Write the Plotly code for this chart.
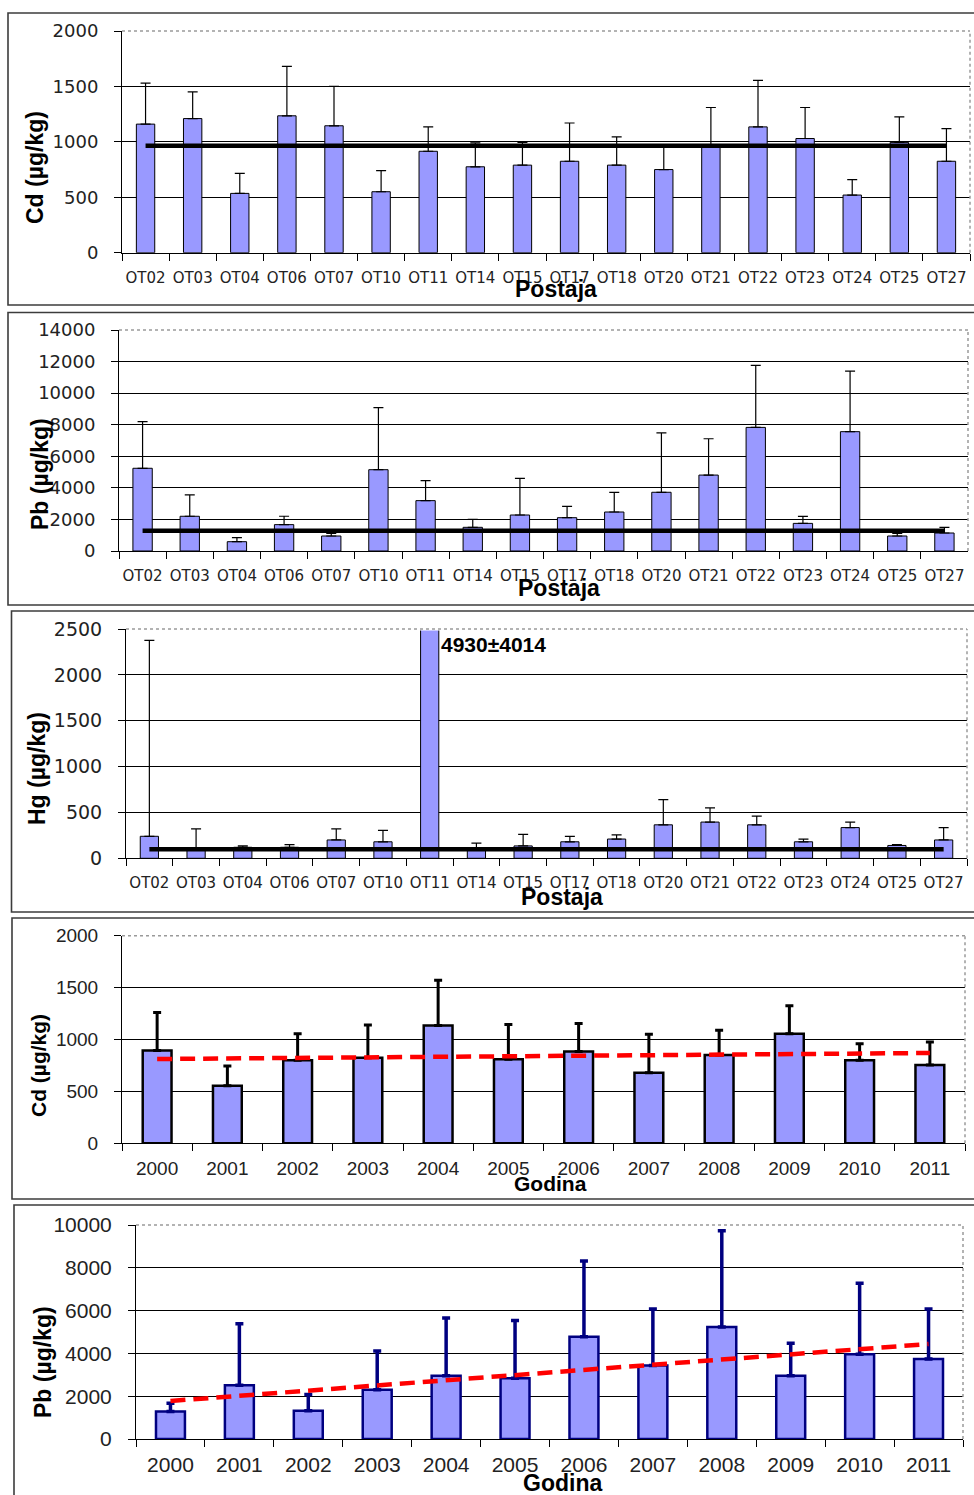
import plotly.graph_objects as go

# ---------------- data ----------------
stations = ["OT02", "OT03", "OT04", "OT06", "OT07", "OT10", "OT11", "OT14", "OT15",
            "OT17", "OT18", "OT20", "OT21", "OT22", "OT23", "OT24", "OT25", "OT27"]
years = ["2000", "2001", "2002", "2003", "2004", "2005", "2006", "2007", "2008",
         "2009", "2010", "2011"]

cd_station = [1160, 1210, 535, 1235, 1145, 550, 915, 775, 790, 825, 790, 750, 950, 1135, 1030, 520, 995, 825]
cd_station_sd = [370, 240, 180, 445, 355, 190, 220, 215, 205, 345, 255, 205, 360, 420, 280, 140, 230, 295]
cd_station_mean = 965

pb_station = [5240, 2200, 590, 1670, 950, 5150, 3190, 1500, 2280, 2110, 2470, 3720, 4810, 7830, 1750, 7560, 950, 1140]
pb_station_sd = [2960, 1350, 255, 530, 170, 3930, 1270, 505, 2320, 720, 1250, 3760, 2300, 3930, 445, 3840, 170, 360]
pb_station_mean = 1290

hg_station = [240, 110, 120, 120, 200, 180, 4930, 110, 135, 180, 210, 365, 395, 365, 180, 335, 140, 200]
hg_station_sd = [2135, 210, 15, 30, 120, 125, 4014, 55, 125, 60, 45, 275, 155, 95, 30, 60, 10, 135]
hg_station_mean = 100
hg_note = "4930±4014"

cd_year = [895, 555, 800, 825, 1135, 810, 885, 680, 850, 1055, 800, 755]
cd_year_sd = [365, 190, 255, 315, 435, 335, 270, 370, 240, 270, 160, 220]
cd_year_trend = [812, 870]

pb_year = [1280, 2510, 1320, 2300, 2960, 2840, 4780, 3430, 5230, 2960, 3960, 3740]
pb_year_sd = [390, 2880, 765, 1810, 2695, 2695, 3535, 2645, 4505, 1510, 3315, 2335]
pb_year_trend = [1776, 4439]

# ---------------- layout helpers ----------------
W, H = 974, 1495
BAR_FILL = "#9999FF"


def px(x):
    return x / W


def py(y):
    return 1 - y / H


fig = go.Figure()
shapes = []
annotations = []

panels = [
    dict(cats=stations, vals=cd_station, sd=cd_station_sd, ymax=2000, dtick=500,
         box=(122, 970, 31, 252.7), bw=0.39, style="thin", ytitle="Cd (µg/kg)",
         xtitle="Postaja", ytpos=(35, 168), xtpos=(556, 289), yfont=("DejaVu Sans", 18),
         xfont=("DejaVu Sans", 15), xstand=11, tsize=23, mean=cd_station_mean),
    dict(cats=stations, vals=pb_station, sd=pb_station_sd, ymax=14000, dtick=2000,
         box=(119, 968, 330, 551), bw=0.41, style="thin", ytitle="Pb (µg/kg)",
         xtitle="Postaja", ytpos=(40, 474), xtpos=(559, 588), yfont=("DejaVu Sans", 18),
         xfont=("DejaVu Sans", 15), xstand=11, tsize=23, mean=pb_station_mean),
    dict(cats=stations, vals=hg_station, sd=hg_station_sd, ymax=2500, dtick=500,
         box=(126, 967, 629, 858.3), bw=0.39, style="thin", ytitle="Hg (µg/kg)",
         xtitle="Postaja", ytpos=(37, 769), xtpos=(562, 897), yfont=("DejaVu Sans", 19),
         xfont=("DejaVu Sans", 15), xstand=11, tsize=23, mean=hg_station_mean),
    dict(cats=years, vals=cd_year, sd=cd_year_sd, ymax=2000, dtick=500,
         box=(122, 965, 935.7, 1143.3), bw=0.41, style="black", ytitle="Cd (µg/kg)",
         xtitle="Godina", ytpos=(38, 1066), xtpos=(550, 1183), yfont=("Liberation Sans", 19),
         xfont=("Liberation Sans", 19), xstand=8, tsize=21, trend=cd_year_trend),
    dict(cats=years, vals=pb_year, sd=pb_year_sd, ymax=10000, dtick=2000,
         box=(136, 963, 1225, 1439), bw=0.42, style="navy", ytitle="Pb (µg/kg)",
         xtitle="Godina", ytpos=(43, 1362), xtpos=(562, 1483), yfont=("Liberation Sans", 21),
         xfont=("Liberation Sans", 21), xstand=7, tsize=23, trend=pb_year_trend),
]

frames = [(8, 13, 305), (8, 312.5, 605), (11.5, 611, 912), (12, 918, 1199), (14, 1205, 1510)]

for i, p in enumerate(panels, start=1):
    xa = "x" if i == 1 else f"x{i}"
    ya = "y" if i == 1 else f"y{i}"
    x0, x1, ytop, ybot = p["box"]

    if p["style"] == "thin":
        line_c, line_w, err_c, err_t, err_w = "black", 1, "black", 1.2, 5
    elif p["style"] == "black":
        line_c, line_w, err_c, err_t, err_w = "black", 2.5, "black", 3, 4
    else:
        line_c, line_w, err_c, err_t, err_w = "#000080", 2.5, "#000080", 3.5, 4

    fig.add_trace(go.Bar(
        x=p["cats"], y=p["vals"], xaxis=xa, yaxis=ya, width=p["bw"],
        marker=dict(color=BAR_FILL, line=dict(color=line_c, width=line_w)),
        error_y=dict(type="data", symmetric=False, array=p["sd"],
                     arrayminus=[0] * len(p["sd"]), color=err_c,
                     thickness=err_t, width=err_w),
        showlegend=False, hoverinfo="skip"))

    if "mean" in p:
        fig.add_trace(go.Scatter(
            x=[p["cats"][0], p["cats"][-1]], y=[p["mean"], p["mean"]],
            xaxis=xa, yaxis=ya, mode="lines",
            line=dict(color="black", width=4.5), showlegend=False, hoverinfo="skip"))
    if "trend" in p:
        fig.add_trace(go.Scatter(
            x=[p["cats"][0], p["cats"][-1]], y=p["trend"],
            xaxis=xa, yaxis=ya, mode="lines",
            line=dict(color="#FF0000", width=4.5, dash="15px,8px"),
            showlegend=False, hoverinfo="skip"))

    xkey = "xaxis" if i == 1 else f"xaxis{i}"
    ykey = "yaxis" if i == 1 else f"yaxis{i}"
    fig.update_layout(**{
        xkey: dict(domain=[px(x0), px(x1)], anchor=ya, type="category",
                   categoryorder="array", categoryarray=p["cats"], automargin=False,
                   showline=True, linecolor="black", linewidth=1,
                   ticks="outside", tickson="boundaries", ticklen=7, tickcolor="black",
                   showgrid=False, zeroline=False, tickangle=0,
                   tickfont=dict(family=p["xfont"][0], size=p["xfont"][1], color="#222"),
                   ticklabelstandoff=p["xstand"], fixedrange=True),
        ykey: dict(domain=[py(ybot), py(ytop)], anchor=xa, automargin=False,
                   range=[0, p["ymax"]], dtick=p["dtick"], tick0=0, tickformat="d",
                   showline=True, linecolor="black", linewidth=1,
                   ticks="outside", ticklen=7, tickcolor="black",
                   showgrid=True, gridcolor="black", gridwidth=1, zeroline=False,
                   tickfont=dict(family=p["yfont"][0], size=p["yfont"][1], color="#222"),
                   ticklabelstandoff=12, fixedrange=True),
    })

    dom = dict(xref=f"{xa} domain", yref=f"{ya} domain")
    shapes.append(dict(type="line", x0=0.002, x1=1, y0=1, y1=1, line=dict(color="white", width=3), **dom))
    shapes.append(dict(type="line", x0=0, x1=1, y0=1, y1=1, line=dict(color="#9a9a9a", width=1.5, dash="dot"), **dom))
    shapes.append(dict(type="line", x0=1, x1=1, y0=0, y1=1, line=dict(color="#9a9a9a", width=1.5, dash="dot"), **dom))

    fx, fy0, fy1 = frames[i - 1]
    shapes.append(dict(type="rect", xref="paper", yref="paper", x0=px(fx), x1=px(990),
                       y0=py(fy1), y1=py(fy0), line=dict(color="#3c3c3c", width=1.6),
                       fillcolor="rgba(0,0,0,0)", layer="below"))

    annotations.append(dict(text=f"<b>{p['ytitle']}</b>", xref="paper", yref="paper",
                            x=px(p["ytpos"][0]), y=py(p["ytpos"][1]), textangle=-90,
                            showarrow=False, xanchor="center", yanchor="middle",
                            font=dict(family="Liberation Sans", size=p["tsize"], color="black")))
    annotations.append(dict(text=f"<b>{p['xtitle']}</b>", xref="paper", yref="paper",
                            x=px(p["xtpos"][0]), y=py(p["xtpos"][1]),
                            showarrow=False, xanchor="center", yanchor="middle",
                            font=dict(family="Liberation Sans", size=p["tsize"], color="black")))

annotations.append(dict(text=f"<b>{hg_note}</b>", xref="paper", yref="paper",
                        x=px(439), y=py(645), showarrow=False, xanchor="left", yanchor="middle",
                        font=dict(family="Liberation Sans", size=21, color="black")))

fig.update_layout(width=W, height=H, autosize=False,
                  margin=dict(l=0, r=0, t=0, b=0, autoexpand=False),
                  paper_bgcolor="white", plot_bgcolor="white",
                  shapes=shapes, annotations=annotations, showlegend=False)

fig.write_html("out.html", config={"displayModeBar": False},
               post_script="document.body.style.margin='0';document.body.style.overflow='hidden';")
